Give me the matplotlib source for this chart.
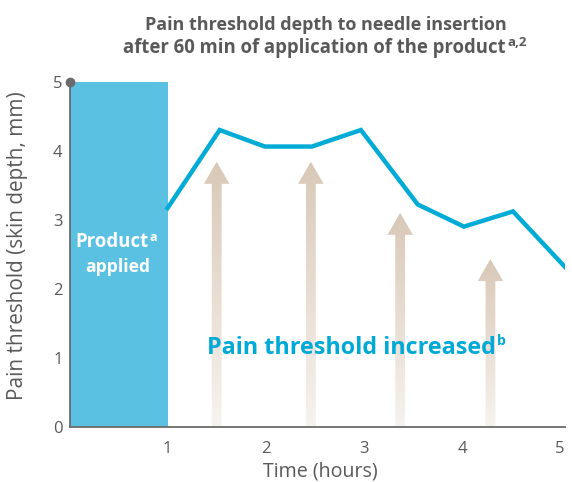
import matplotlib
matplotlib.use('Agg')
import matplotlib.pyplot as plt
import numpy as np
from matplotlib.patches import Polygon
from matplotlib.colors import LinearSegmentedColormap

# ---- data ----
hours = [1.0, 1.53, 1.99, 2.47, 2.97, 3.55, 4.02, 4.52, 5.06]
threshold = [3.17, 4.30, 4.06, 4.06, 4.30, 3.22, 2.90, 3.12, 2.30]
product_start = [0.0]
product_height = [5.0]
arrow_x = [1.50, 2.46, 3.37, 4.29]
arrow_tip = [3.84, 3.84, 3.10, 2.43]
x_ticks = [1, 2, 3, 4, 5]
y_ticks = [0, 1, 2, 3, 4, 5]

FONT = 'Open Sans'
GRAY = '#595959'
BLUE_LINE = '#00abd6'
BAR = '#5bc1e2'
W, H = 572, 482

fig = plt.figure(figsize=(5.72, 4.82), dpi=100)
ax = fig.add_axes([69.5/W, 55.3/H, 495.5/W, 345/H])

# bar
ax.bar(product_start, product_height, width=1.0, align='edge', color=BAR, zorder=2)

# gradient arrows
cmap = LinearSegmentedColormap.from_list('tan', ['#f7f3ef', '#d9c8b7'])
grad = np.linspace(0, 1, 256).reshape(-1, 1)
sw, hw, hl = 0.10, 0.26, 0.32
for x, t in zip(arrow_x, arrow_tip):
    verts = [(x - sw/2, 0), (x + sw/2, 0), (x + sw/2, t - hl), (x + hw/2, t - hl),
             (x, t), (x - hw/2, t - hl), (x - sw/2, t - hl)]
    poly = Polygon(verts, closed=True, facecolor='none', edgecolor='none')
    ax.add_patch(poly)
    im = ax.imshow(grad, extent=[x - hw/2, x + hw/2, 0, t], origin='lower',
                   cmap=cmap, aspect='auto', zorder=1)
    im.set_clip_path(poly)

# line
ax.plot(hours, threshold, color=BLUE_LINE, lw=3.2, solid_joinstyle='miter', zorder=3)

ax.set_xlim(0, 5.05)
ax.set_ylim(0, 5)
ax.set_xticks(x_ticks)
ax.set_yticks(y_ticks)
ax.tick_params(length=0, labelsize=12, colors=GRAY)
ax.tick_params(axis='x', pad=10)
ax.tick_params(axis='y', pad=5)
for lab in ax.get_xticklabels() + ax.get_yticklabels():
    lab.set_fontfamily(FONT)
for s in ['top', 'right']:
    ax.spines[s].set_visible(False)
for s in ['left', 'bottom']:
    ax.spines[s].set_color('#6b6b6b')
    ax.spines[s].set_linewidth(1.3)
    ax.spines[s].set_zorder(4)
ax.plot([0], [5], 'o', color='#6b6b6b', ms=6, clip_on=False, zorder=5)

fig.canvas.draw()
r = fig.canvas.get_renderer()


def fit(t, target):
    w = t.get_window_extent(r).width
    t.set_fontsize(t.get_fontsize() * target / w)


def px(x, y):
    return x / W, 1 - y / H


# axis labels as figure text for exact placement
xl = fig.text(*px(320, 476), 'Time (hours)', fontsize=12, color=GRAY, family=FONT,
              ha='center', va='baseline')
fit(xl, 114)
yl = fig.text(*px(17.5, 246), 'Pain threshold (skin depth, mm)', fontsize=12, color=GRAY,
              family=FONT, ha='center', va='center', rotation=90)
w0 = yl.get_window_extent(r).height
yl.set_fontsize(12 * 308 / w0)

# bar text
p1 = fig.text(*px(75, 246.7), 'Product', color='white', fontsize=12, fontweight='bold',
              family=FONT, ha='left', va='baseline', zorder=5)
fit(p1, 72.7)
p2 = fig.text(*px(117.5, 272.0), 'applied', color='white', fontsize=12, fontweight='bold',
              family=FONT, ha='center', va='baseline', zorder=5)
fit(p2, 65)
b = p1.get_window_extent(r)
fig.text((b.x1 + 1.5) / W, (b.y0 + 0.55 * b.height) / H, 'a', color='white', fontsize=9,
         fontweight='bold', family=FONT, ha='left', va='baseline', zorder=5)

# increased text
t1 = fig.text(*px(206.7, 354.3), 'Pain threshold increased', color='#00a9d6', fontsize=15,
              fontweight='bold', family=FONT, ha='left', va='baseline', zorder=5)
fit(t1, 290)
b = t1.get_window_extent(r)
fig.text((b.x1 + 1.5) / W, (b.y0 + 0.62 * b.height) / H, 'b', color='#00a9d6', fontsize=10,
         fontweight='bold', family=FONT, ha='left', va='baseline', zorder=5)

# title
tl1 = fig.text(*px(145, 29.5), 'Pain threshold depth to needle insertion', ha='left',
               va='baseline', fontsize=14, fontweight='bold', color=GRAY, family=FONT)
fit(tl1, 365)
tl2 = fig.text(*px(123, 53.5), 'after 60 min of application of the product', ha='left',
               va='baseline', fontsize=14, fontweight='bold', color=GRAY, family=FONT)
fit(tl2, 384)
b = tl2.get_window_extent(r)
fig.text((b.x1 + 2) / W, (b.y0 + 0.6 * b.height) / H, 'a,2', ha='left', va='baseline',
         fontsize=9.5, fontweight='bold', color=GRAY, family=FONT)

fig.savefig('out.png', dpi=100)
